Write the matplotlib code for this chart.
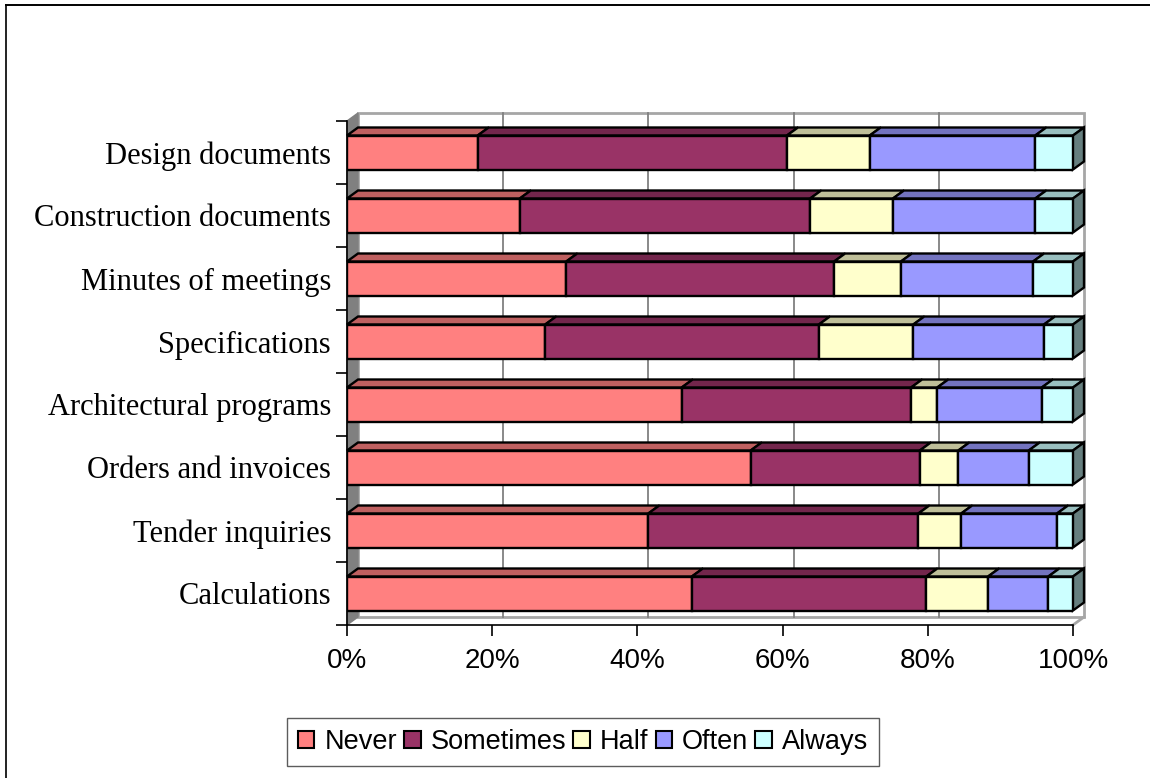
import matplotlib
matplotlib.use('Agg')
import matplotlib.pyplot as plt
from matplotlib.lines import Line2D
from matplotlib.patches import Polygon, Rectangle

categories = ['Calculations', 'Tender inquiries', 'Orders and invoices', 'Architectural programs',
              'Specifications', 'Minutes of meetings', 'Construction documents', 'Design documents']
never = [47.5, 41.5, 55.6, 46.1, 27.3, 30.2, 23.8, 18.0]
sometimes = [32.3, 37.2, 23.3, 31.6, 37.7, 36.9, 40.0, 42.6]
half = [8.5, 5.9, 5.3, 3.6, 13.0, 9.2, 11.4, 11.4]
often = [8.3, 13.2, 9.7, 14.4, 18.0, 18.2, 19.6, 22.8]
always = [3.4, 2.2, 6.1, 4.3, 4.0, 5.5, 5.2, 5.2]

series = [('Never', never, '#ff8080', '#bf6060', '#7f4040'),
          ('Sometimes', sometimes, '#993366', '#73264c', '#4c1933'),
          ('Half', half, '#ffffcc', '#bfbf99', '#7f7f66'),
          ('Often', often, '#9999ff', '#7373bf', '#4c4c7f'),
          ('Always', always, '#ccffff', '#99bfbf', '#667f7f')]

W, H = 1150, 778
fig = plt.figure(figsize=(W / 100, H / 100), dpi=100)
ax = fig.add_axes([347 / W, 1 - 625 / H, 726 / W, 504 / H])
ax.set_xlim(0, 100)
ax.set_ylim(-0.5, 7.5)

# depth of the fake 3D box, in data units
dx = 11 / 7.26
dy = 8 / 63
bar_h = 34 / 63

# back wall, side wall and floor
ax.add_patch(Polygon([(dx, -0.5 + dy), (100 + dx, -0.5 + dy), (100 + dx, 7.5 + dy), (dx, 7.5 + dy)],
                     fc='white', ec='#a6a6a6', lw=2, clip_on=False, zorder=0))
ax.add_patch(Polygon([(0, -0.5), (dx, -0.5 + dy), (dx, 7.5 + dy), (0, 7.5)],
                     fc='#808080', ec='#808080', lw=1, clip_on=False, zorder=0.5))
ax.plot([100, 100 + dx], [-0.5, -0.5 + dy], color='#a6a6a6', lw=2, clip_on=False, zorder=0.5)
for v in range(20, 100, 20):
    ax.plot([v + dx, v + dx], [-0.5 + dy, 7.5 + dy], color='#808080', lw=1.3, clip_on=False, zorder=0.6)

for i in range(len(categories)):
    left = 0
    for name, vals, face, top, side in series:
        v = vals[i]
        y0, y1 = i - bar_h / 2, i + bar_h / 2
        ax.add_patch(Polygon([(left, y1), (left + dx, y1 + dy), (left + v + dx, y1 + dy), (left + v, y1)],
                             fc=top, ec='black', lw=1.7, clip_on=False, zorder=2))
        if name == 'Always':
            ax.add_patch(Polygon([(left + v, y0), (left + v + dx, y0 + dy), (left + v + dx, y1 + dy), (left + v, y1)],
                                 fc=side, ec='black', lw=1.7, clip_on=False, zorder=2))
        ax.barh(i, v, left=left, height=bar_h, color=face, edgecolor='black', lw=1.7, zorder=3)
        left += v

for s in ['top', 'right']:
    ax.spines[s].set_visible(False)
for s in ['left', 'bottom']:
    ax.spines[s].set_linewidth(1.2)
    ax.spines[s].set_zorder(4)

ax.set_xticks(range(0, 101, 20))
ax.set_xticklabels(['%d%%' % v for v in range(0, 101, 20)], fontfamily='Liberation Sans', fontsize=20)
ax.set_yticks([i - 0.5 for i in range(9)])
ax.set_yticklabels([])
ax.set_yticks(range(8), minor=True)
ax.set_yticklabels(categories, minor=True, fontfamily='Liberation Serif', fontsize=22)
ax.tick_params(axis='y', which='major', length=8, width=1.2)
ax.tick_params(axis='y', which='minor', length=0, pad=11.5)
ax.tick_params(axis='x', length=8, width=1.2, pad=8.5)

# legend box
handles = [Rectangle((0, 0), 1, 1, fc=s[2], ec='black', lw=1.5) for s in series]
leg = fig.legend(handles, [s[0] for s in series], ncol=5, loc='center',
                 bbox_to_anchor=(583 / W, 1 - 742 / H), frameon=True, fancybox=False, edgecolor='#333333',
                 prop={'family': 'Liberation Sans', 'size': 19.5}, handlelength=0.6, handleheight=0.6,
                 handletextpad=0.37, columnspacing=0.27, borderpad=0.42, borderaxespad=0)
leg.get_frame().set_linewidth(1)

# chart area border, top and left edges only
fig.add_artist(Line2D([6 / W, 6 / W], [0, 1 - 4.5 / H], transform=fig.transFigure, color='#222222', lw=1.4))
fig.add_artist(Line2D([6 / W, 1], [1 - 4.5 / H, 1 - 4.5 / H], transform=fig.transFigure, color='black', lw=1.4))

fig.savefig('out.png', dpi=100)
